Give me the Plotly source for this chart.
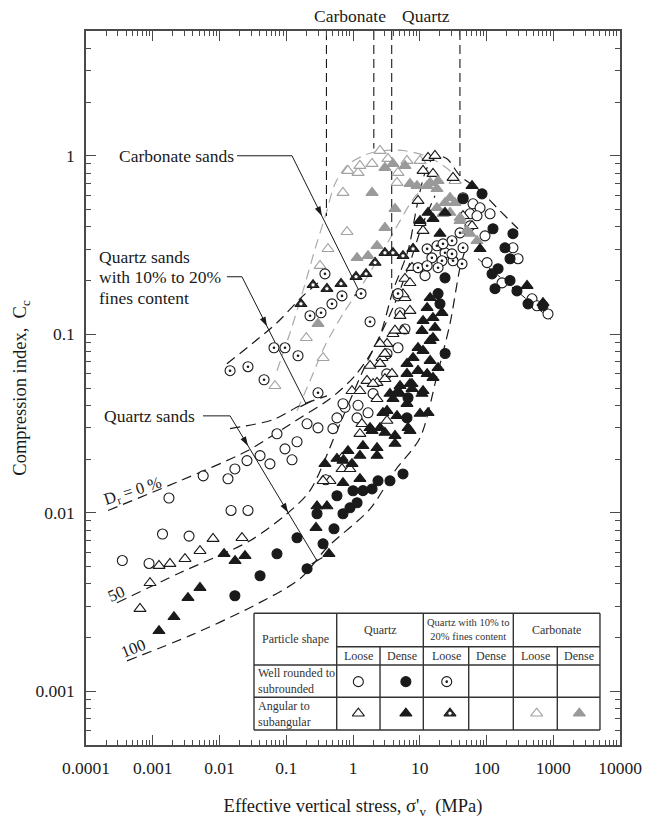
import numpy as np
import plotly.graph_objects as go

FONT = "Liberation Serif"
INK = "#1a1a1a"
AXIS = "#4a4a4a"
GREY_FILL = "#9a9a9a"
GREY_EDGE = "#a2a2a2"
GREY_LINE = "#ababab"

# ---------------------------------------------------------------------------
# Measured points: (effective vertical stress [MPa], compression index Cc)
# ---------------------------------------------------------------------------
quartz_loose_rounded = [
    (0.00035, 0.0054), (0.00088, 0.0052), (0.0014, 0.0076), (0.0035, 0.0074),
    (0.00175, 0.0121), (0.0057, 0.0161), (0.0134, 0.0155), (0.017, 0.0176),
    (0.0258, 0.0196), (0.0149, 0.0103), (0.0267, 0.0103), (0.0405, 0.0209),
    (0.057, 0.0188), (0.0726, 0.0277), (0.0957, 0.0228), (0.145, 0.025),
    (0.122, 0.0198), (0.205, 0.0315), (0.299, 0.0299), (0.50, 0.0296),
    (0.575, 0.034), (0.76, 0.039), (1.19, 0.040), (1.15, 0.034),
    (1.68, 0.0363), (2.0, 0.0465), (0.39, 0.0153), (5.06, 0.132),
    (4.72, 0.164), (12, 0.213), (9.4, 0.236), (62.8, 0.538), (80, 0.511),
    (44.5, 0.582), (56.6, 0.473), (0.708, 0.0408), (3.23, 0.0778),
    (4.72, 0.084), (72, 0.461), (113, 0.473), (95, 0.356), (249, 0.305),
    (297, 0.265), (102, 0.252), (171, 0.194), (481, 0.158), (571, 0.1445),
    (834, 0.130), (56.6, 0.405), (3.2, 0.060), (6.0, 0.107),
]
quartz_dense_rounded = [
    (0.017, 0.00343), (0.0405, 0.00444), (0.0726, 0.00589), (0.145, 0.00724),
    (0.205, 0.00486), (0.356, 0.0067), (0.519, 0.00813), (0.289, 0.00987),
    (0.575, 0.01245), (0.708, 0.00987), (0.90, 0.01066), (1.15, 0.01138),
    (1.0, 0.01328), (1.41, 0.0133), (1.93, 0.0136), (2.37, 0.0151),
    (3.58, 0.0151), (5.61, 0.0165), (6.44, 0.034), (6.67, 0.0441),
    (85.7, 0.612), (125, 0.39), (249, 0.366), (189, 0.305), (225, 0.265),
    (149, 0.233), (121, 0.218), (225, 0.20), (134, 0.18), (286, 0.175),
    (419, 0.148), (702, 0.1445), (18.8, 0.169), (23.9, 0.207), (20.1, 0.148),
    (44.5, 0.574), (24, 0.078),
]
quartz_loose_angular = [
    (0.000644, 0.0029), (0.00091, 0.00405), (0.00124, 0.00505), (0.00181, 0.00518),
    (0.00304, 0.00552), (0.0051, 0.00612), (0.008, 0.00715), (0.0217, 0.00724),
    (0.966, 0.0482), (2.29, 0.0535), (2.29, 0.0435), (1.36, 0.0315),
    (1.27, 0.0277), (3.23, 0.0328), (0.684, 0.0203), (0.684, 0.0176),
    (0.90, 0.0176), (0.452, 0.0151), (0.356, 0.0151), (9.42, 0.56),
    (11.2, 0.824), (13.3, 0.975), (16.9, 1.0), (10.1, 0.421), (11.2, 0.38),
    (7.93, 0.301), (7.65, 0.236), (6.01, 0.16), (7.14, 0.1355), (5.06, 0.127),
    (5.61, 0.1047), (3.97, 0.1006), (3.23, 0.0885), (2.72, 0.0738),
    (1.80, 0.0667), (1.62, 0.0549), (2.54, 0.0684), (1.27, 0.0482),
    (3.01, 0.0563), (6.01, 0.205), (31.5, 0.753), (15.8, 0.793),
    (60.7, 0.405), (44.5, 0.461), (2.54, 0.0885), (3.01, 0.0778),
    (2.0, 0.0528), (3.84, 0.0601), (7.14, 0.194), (5.61, 0.168), (4.26, 0.105),
]
quartz_dense_angular = [
    (0.00124, 0.00218), (0.00208, 0.00261), (0.00337, 0.00334), (0.0051, 0.0038),
    (0.0117, 0.00589), (0.0171, 0.00538), (0.0241, 0.00574), (0.289, 0.0109),
    (0.407, 0.0109), (0.279, 0.00824), (0.436, 0.00589), (0.38, 0.0188),
    (0.708, 0.0196), (0.84, 0.0222), (1.27, 0.0209), (1.41, 0.0237),
    (2.29, 0.0209), (1.93, 0.0288), (3.01, 0.0281), (4.26, 0.027),
    (4.26, 0.0244), (7.14, 0.0288), (2.29, 0.0231), (2.81, 0.0363),
    (4.56, 0.0349), (10.1, 0.0359), (13.3, 0.0363), (3.97, 0.0435),
    (6.44, 0.0408), (10.8, 0.0465), (3.58, 0.0465), (7.65, 0.0528),
    (5.06, 0.0514), (0.708, 0.0147), (1.27, 0.0155), (0.966, 0.0188),
    (0.575, 0.0201), (14.3, 0.16), (12.9, 0.1407), (15.8, 0.1237),
    (10.8, 0.1047), (15.8, 0.0955), (21.5, 0.132), (11.2, 0.0809),
    (14.3, 0.0711), (7.93, 0.0738), (9.42, 0.0625), (18.8, 0.0649),
    (6.44, 0.0601), (4.72, 0.0482), (7.65, 0.0495), (11.2, 0.0482),
    (15.8, 0.0571), (60.7, 0.679), (15.8, 0.444), (13.3, 0.48), (23.9, 0.48),
    (10.1, 0.432), (20.1, 0.366), (405, 0.187), (702, 0.15), (80, 0.301),
    (9.42, 0.084), (11.2, 0.119), (16.9, 0.109), (6.44, 0.0684), (12.9, 0.060),
    (14.3, 0.092), (7.14, 0.0528), (5.06, 0.0465), (3.23, 0.0373),
    (2.54, 0.0299), (6.67, 0.0299), (1.8, 0.0299),
]
fines_loose_rounded = [
    (0.0144, 0.0625), (0.0267, 0.0658), (0.0465, 0.0556), (0.0655, 0.084),
    (0.0957, 0.084), (0.15, 0.0758), (0.299, 0.047), (0.227, 0.127),
    (0.332, 0.132), (0.484, 0.148), (0.684, 0.164), (0.38, 0.218),
    (1.32, 0.169), (1.80, 0.1175), (4.72, 0.169), (9.42, 0.236),
    (18.1, 0.313), (23.9, 0.286), (30.4, 0.334), (40.1, 0.37), (44.5, 0.305),
    (43, 0.248), (31.5, 0.258), (21.5, 0.258), (15.2, 0.268), (12.9, 0.242),
    (18.8, 0.236), (12.9, 0.301), (30.4, 0.282), (22.3, 0.321),
]
fines_loose_angular = [
    (0.166, 0.148), (0.252, 0.189), (0.407, 0.18), (0.661, 0.192),
    (1.11, 0.21), (1.57, 0.218), (2.14, 0.252), (3.01, 0.286),
    (3.97, 0.286), (5.61, 0.275), (7.93, 0.301),
]
carbonate_loose_angular = [
    (0.0677, 0.0514), (0.2, 0.0955), (0.356, 0.0738), (0.321, 0.242),
    (0.422, 0.301), (0.813, 0.375), (0.708, 0.621), (0.841, 0.824),
    (1.19, 0.803), (1.27, 0.879), (1.93, 0.902), (2.54, 1.067), (3.34, 0.962),
    (4.56, 0.706), (4.72, 0.803), (6.44, 0.938), (10.1, 0.938), (33.7, 0.724),
]
carbonate_dense_angular = [
    (0.299, 0.1146), (1.15, 0.268), (1.68, 0.275), (2.29, 0.313), (3.01, 0.395),
    (4.26, 0.505), (1.93, 0.621), (3.01, 0.857), (3.97, 0.902), (6.01, 0.879),
    (9.1, 0.679), (7.14, 0.697), (12.9, 0.679), (18.1, 0.653), (23.9, 0.545),
    (18.1, 0.511), (22.3, 0.473), (28.4, 0.48), (33.7, 0.545), (40.1, 0.432),
    (56.6, 0.366), (72.1, 0.334), (18.8, 0.724), (14.3, 0.706), (28.4, 0.582),
    (40.1, 0.45), (51, 0.38),
]

# Envelope curves (stress, Cc)
quartz_dr0 = [
    (0.000214, 0.0103), (0.00256, 0.0151), (0.0258, 0.0222), (0.161, 0.034),
    (0.452, 0.0435), (1.07, 0.0586), (2.37, 0.092), (3.97, 0.175), (6.67, 0.294),
    (9.1, 0.525), (12, 0.803), (16.9, 1.0), (25.6, 0.962), (40.1, 0.772),
    (80, 0.637), (159, 0.492), (297, 0.39),
]
quartz_dr50 = [
    (0.000291, 0.00313), (0.00256, 0.00461), (0.0286, 0.00697), (0.1026, 0.00987),
    (0.227, 0.0133), (0.575, 0.0288), (1.41, 0.0625), (3.97, 0.1407),
    (7.14, 0.252), (10.8, 0.405), (16.9, 0.597),
]
quartz_dr100 = [
    (0.000411, 0.00148), (0.00361, 0.00205), (0.0286, 0.00294), (0.161, 0.00427),
    (0.407, 0.00637), (1.80, 0.0105), (4.26, 0.0172), (10.1, 0.0263),
    (18.1, 0.0586), (28.4, 0.1146), (40.1, 0.236), (47.6, 0.294),
]
quartz_post_yield = [(74.6, 0.265), (1000, 0.118)]
fines_upper = [(0.0129, 0.0684), (0.0307, 0.0885), (0.0726, 0.116), (0.178, 0.164), (0.299, 0.194)]
fines_lower = [(0.0144, 0.0296), (0.0632, 0.0332), (0.161, 0.0398), (0.407, 0.0452)]
carbonate_outer = [
    (0.0726, 0.0625), (0.114, 0.102), (0.178, 0.175), (0.279, 0.313), (0.394, 0.473),
    (0.537, 0.697), (0.841, 0.891), (1.51, 1.01), (2.72, 1.067), (6.01, 1.067),
    (14.3, 0.975), (28.4, 0.824), (47.6, 0.662),
]
carbonate_inner = [
    (0.145, 0.0373), (0.227, 0.0549), (0.38, 0.0862), (0.708, 0.130), (1.27, 0.18),
    (2.81, 0.294), (5.06, 0.432), (7.65, 0.56), (10.8, 0.653),
]

# Stress ranges at which the curves peak (vertical guides) and where they stop
carbonate_peak_stress = [0.4, 2.05]
carbonate_peak_floor = [0.46, 1.1]
quartz_peak_stress = [3.8, 40]
quartz_peak_floor = [0.18, 0.77]

x_tick_vals = [1e-4, 1e-3, 1e-2, 1e-1, 1, 10, 100, 1000, 10000]
x_tick_text = ["0.0001", "0.001", "0.01", "0.1", "1", "10", "100", "1000", "10000"]
y_tick_vals = [0.001, 0.01, 0.1, 1]
y_tick_text = ["0.001", "0.01", "0.1", "1"]

# ---------------------------------------------------------------------------
W, H = 646, 821
M = dict(l=86, r=26, t=31, b=76)
X_RANGE = [-4, 4]
Y_RANGE = [np.log10(5e-4), np.log10(5)]
PX_X = (W - M["l"] - M["r"]) / (X_RANGE[1] - X_RANGE[0])
PX_Y = (H - M["t"] - M["b"]) / (Y_RANGE[1] - Y_RANGE[0])

traces = []
annotations = []


def unzip(pairs):
    return [p[0] for p in pairs], [p[1] for p in pairs]


def curve(pairs, color, dash="10px,6px", width=1.2, smooth=True):
    x, y = unzip(pairs)
    traces.append(go.Scatter(
        x=x, y=y, mode="lines", hoverinfo="skip", showlegend=False,
        line=dict(color=color, width=width, dash=dash,
                  shape="spline" if smooth else "linear", smoothing=0.8)))


def points(pairs, symbol, fill, edge, size, lw=1.1, xaxis="x", yaxis="y"):
    x, y = unzip(pairs)
    traces.append(go.Scatter(
        x=x, y=y, mode="markers", hoverinfo="skip", showlegend=False,
        xaxis=xaxis, yaxis=yaxis,
        marker=dict(symbol=symbol, size=size, color=fill,
                    line=dict(color=edge, width=lw))))


def dotted_circles(pairs, **kw):
    points(pairs, "circle", "white", INK, 10, **kw)
    points(pairs, "circle", INK, INK, 2.6, lw=0, **kw)


def dotted_triangles(pairs, **kw):
    points(pairs, "triangle-up", "#2e2e2e", INK, 10.5, **kw)
    points(pairs, "circle", "white", INK, 4.2, lw=0.8, **kw)


def callout(path, head_fracs):
    """Leader line with arrowheads on its last leg and a bar at its end."""
    x, y = unzip(path)
    traces.append(go.Scatter(x=x, y=y, mode="lines", hoverinfo="skip",
                             showlegend=False, line=dict(color=INK, width=1)))
    (x0, y0), (x1, y1) = path[-2], path[-1]
    lx0, ly0, lx1, ly1 = np.log10([x0, y0, x1, y1])
    dx = (lx1 - lx0) * PX_X
    dy = -(ly1 - ly0) * PX_Y
    theta = np.degrees(np.arctan2(dy, dx))
    hx = [10 ** (lx0 + t * (lx1 - lx0)) for t in head_fracs]
    hy = [10 ** (ly0 + t * (ly1 - ly0)) for t in head_fracs]
    traces.append(go.Scatter(
        x=hx, y=hy, mode="markers", hoverinfo="skip", showlegend=False,
        marker=dict(symbol="arrow", size=10, angle=theta + 90, color=INK,
                    line=dict(width=0))))
    traces.append(go.Scatter(
        x=[x1], y=[y1], mode="markers", hoverinfo="skip", showlegend=False,
        marker=dict(symbol="line-ew", size=9, angle=theta + 90,
                    line=dict(color=INK, width=1.2))))


# Envelopes
curve(carbonate_outer, GREY_LINE)
curve(carbonate_inner, GREY_LINE)
curve(fines_upper, INK)
curve(fines_lower, INK)
curve(quartz_dr0, INK)
curve(quartz_dr50, INK)
curve(quartz_dr100, INK)
curve(quartz_post_yield, INK, dash="7px,4px", width=1.0, smooth=False)

# Vertical guides for the peak-stress ranges
for xs, floors in ((carbonate_peak_stress, carbonate_peak_floor),
                   (quartz_peak_stress, quartz_peak_floor)):
    for xv, yv in zip(xs, floors):
        traces.append(go.Scatter(x=[xv, xv], y=[5, yv], mode="lines", hoverinfo="skip",
                                 showlegend=False,
                                 line=dict(color=INK, width=1.1, dash="9px,5px")))

# Callout leaders
callout([(0.0183, 1.0), (0.122, 1.0), (1.27, 0.171)], [0.44])
callout([(0.0129, 0.21), (0.0217, 0.21), (0.198, 0.0408)], [0.39])
callout([(0.00566, 0.0349), (0.0144, 0.0349), (0.289, 0.00538)], [0.207, 0.667])

# Data markers
points(carbonate_loose_angular, "triangle-up", "white", GREY_EDGE, 10.5)
points(quartz_loose_rounded, "circle", "white", INK, 10)
points(quartz_loose_angular, "triangle-up", "white", INK, 10.5)
dotted_circles(fines_loose_rounded)
dotted_triangles(fines_loose_angular)
points(carbonate_dense_angular, "triangle-up", GREY_FILL, GREY_FILL, 10.5)
points(quartz_dense_angular, "triangle-up", INK, INK, 10.5)
points(quartz_dense_rounded, "circle", INK, INK, 10)

# ---------------------------------------------------------------------------
# Key table (drawn on an overlay whose 0..1 range spans the plotting area)
# ---------------------------------------------------------------------------
TX = [0.3146, 0.4695, 0.5506, 0.6317, 0.7167, 0.8002, 0.8826, 0.9625]
TY = [0.1845, 0.1377, 0.1120, 0.0668, 0.0210]
traces.append(go.Scatter(
    x=[TX[0], TX[7], TX[7], TX[0], TX[0]], y=[TY[0], TY[0], TY[4], TY[4], TY[0]],
    xaxis="x2", yaxis="y2", mode="lines", fill="toself", fillcolor="white",
    line=dict(color="white", width=0), hoverinfo="skip", showlegend=False))

ROW3, ROW4 = 0.0887, 0.0444
points([(0.510, ROW3)], "circle", "white", INK, 10, xaxis="x2", yaxis="y2")
points([(0.599, ROW3)], "circle", INK, INK, 10, xaxis="x2", yaxis="y2")
dotted_circles([(0.6755, ROW3)], xaxis="x2", yaxis="y2")
points([(0.510, ROW4)], "triangle-up", "white", INK, 10.5, xaxis="x2", yaxis="y2")
points([(0.599, ROW4)], "triangle-up", INK, INK, 10.5, xaxis="x2", yaxis="y2")
dotted_triangles([(0.6816, ROW4)], xaxis="x2", yaxis="y2")
points([(0.844, ROW4)], "triangle-up", "white", GREY_EDGE, 10.5, xaxis="x2", yaxis="y2")
points([(0.9238, ROW4)], "triangle-up", GREY_FILL, GREY_FILL, 10.5, xaxis="x2", yaxis="y2")

shapes = []


def hline(y, xa, xb):
    shapes.append(dict(type="line", xref="paper", yref="paper", x0=xa, x1=xb, y0=y, y1=y,
                       line=dict(color="#333", width=1.4), layer="above"))


def vline(x, ya, yb):
    shapes.append(dict(type="line", xref="paper", yref="paper", x0=x, x1=x, y0=ya, y1=yb,
                       line=dict(color="#333", width=1.4), layer="above"))


hline(TY[0], TX[0], TX[7])
hline(TY[1], TX[1], TX[7])
hline(TY[2], TX[0], TX[7])
hline(TY[3], TX[0], TX[7])
hline(TY[4], TX[0], TX[7])
for i in (0, 1, 3, 5, 7):
    vline(TX[i], TY[0], TY[4])
for i in (2, 4, 6):
    vline(TX[i], TY[1], TY[4])


def table_text(text, x, y, size=12, xanchor="center", align="center", color="#333"):
    annotations.append(dict(text=text, x=x, y=y, xref="paper", yref="paper",
                            xanchor=xanchor, yanchor="middle", align=align,
                            showarrow=False, font=dict(family=FONT, size=size, color=color)))


table_text("Particle shape", (TX[0] + TX[1]) / 2, (TY[0] + TY[2]) / 2)
table_text("Quartz", (TX[1] + TX[3]) / 2, (TY[0] + TY[1]) / 2)
table_text("Quartz with 10% to<br>20% fines content", (TX[3] + TX[5]) / 2, (TY[0] + TY[1]) / 2, size=10.5)
table_text("Carbonate", (TX[5] + TX[7]) / 2, (TY[0] + TY[1]) / 2)
for i, lab in enumerate(["Loose", "Dense", "Loose", "Dense", "Loose", "Dense"]):
    table_text(lab, (TX[i + 1] + TX[i + 2]) / 2, (TY[1] + TY[2]) / 2)
table_text("Well rounded to<br>subrounded", TX[0] + 0.003, (TY[2] + TY[3]) / 2, xanchor="left", align="left")
table_text("Angular to<br>subangular", TX[0] + 0.003, (TY[3] + TY[4]) / 2, xanchor="left", align="left")


# ---------------------------------------------------------------------------
# Text labels on the chart (positions in stress / Cc units)
# ---------------------------------------------------------------------------
def label(text, x, y, xanchor="center", size=17.5, angle=0):
    annotations.append(dict(text=text, x=np.log10(x), y=np.log10(y), xref="x", yref="y",
                            xanchor=xanchor, yanchor="middle", showarrow=False,
                            textangle=angle, font=dict(family=FONT, size=size, color=INK)))


label("Carbonate sands", 0.0174, 1.0, xanchor="right")
label("Quartz sands", 0.000146, 0.270, xanchor="left")
label("with 10% to 20%", 0.000146, 0.209, xanchor="left")
label("fines content", 0.000146, 0.160, xanchor="left")
label("Quartz sands", 0.0046, 0.0349, xanchor="right")
label("D<sub>r</sub> = 0 %", 0.000506, 0.0133, size=16.5, angle=-18)
label("50", 0.000291, 0.00352, size=16.5, angle=-24)
label("100", 0.000506, 0.00173, size=16.5, angle=-22)

for text, xr in (("Carbonate", carbonate_peak_stress), ("Quartz", quartz_peak_stress)):
    annotations.append(dict(text=text, x=np.log10(np.sqrt(xr[0] * xr[1])), y=1.021,
                            xref="x", yref="paper", yanchor="middle", showarrow=False,
                            font=dict(family=FONT, size=17.5, color=INK)))

# ---------------------------------------------------------------------------
minor_x = [k * 10.0 ** e for e in range(-4, 4) for k in range(2, 10)]
minor_y = [k * 10.0 ** e for e in range(-4, 1) for k in range(2, 10)
           if 5.0001e-4 < k * 10.0 ** e < 4.999]

axis_common = dict(
    type="log", showgrid=False, zeroline=False, showline=True, linecolor=AXIS,
    linewidth=1.5, mirror="ticks", ticks="inside", ticklen=10, tickwidth=1.1,
    tickcolor=AXIS, tickfont=dict(family=FONT, size=17.5, color=INK),
    automargin=False, ticklabelstandoff=6,
)

fig = go.Figure(traces)
fig.update_layout(
    width=W, height=H, margin=M, template="none",
    paper_bgcolor="white", plot_bgcolor="white", showlegend=False,
    font=dict(family=FONT, color=INK),
    xaxis=dict(**axis_common, range=X_RANGE, tickvals=x_tick_vals, ticktext=x_tick_text,
               minor=dict(tickvals=minor_x, ticks="inside", ticklen=5, tickwidth=1, tickcolor=AXIS),
               title=dict(text="Effective vertical stress, σ'<sub>v</sub>  (MPa)",
                          font=dict(family=FONT, size=18.5, color=INK), standoff=22)),
    yaxis=dict(**axis_common, range=Y_RANGE, tickvals=y_tick_vals, ticktext=y_tick_text,
               minor=dict(tickvals=minor_y, ticks="inside", ticklen=5, tickwidth=1, tickcolor=AXIS),
               title=dict(text="Compression index,  C<sub>c</sub>",
                          font=dict(family=FONT, size=18.5, color=INK), standoff=4)),
    xaxis2=dict(overlaying="x", anchor="y2", range=[0, 1], visible=False, fixedrange=True),
    yaxis2=dict(overlaying="y", anchor="x2", range=[0, 1], visible=False, fixedrange=True),
    shapes=shapes,
    annotations=annotations,
)
fig.write_html("out.html")
